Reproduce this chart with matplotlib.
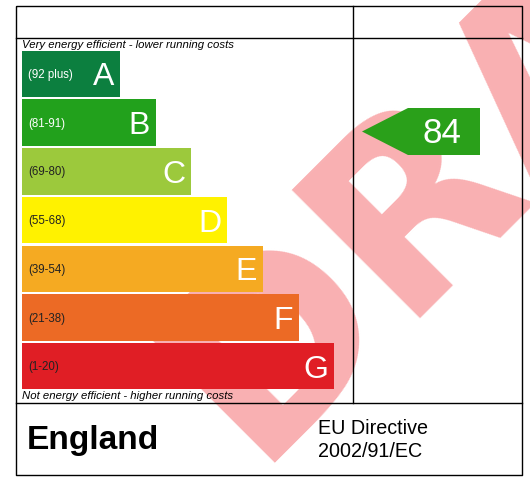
import matplotlib
matplotlib.use("Agg")
import matplotlib.pyplot as plt
from matplotlib.patches import Rectangle, Polygon

# ---- data ----
bands = ["A", "B", "C", "D", "E", "F", "G"]
ranges = ["(92 plus)", "(81-91)", "(69-80)", "(55-68)", "(39-54)", "(21-38)", "(1-20)"]
band_colors = ["#0c7f3f", "#22a11c", "#9cc93c", "#fff200", "#f5aa22", "#ec6a25", "#e01e25"]
range_text_colors = ["white", "white", "#222222", "#222222", "#222222", "#222222", "#222222"]
current_rating = 84
top_note = "Very energy efficient - lower running costs"
bottom_note = "Not energy efficient - higher running costs"
country = "England"
directive = ["EU Directive", "2002/91/EC"]
watermark = "DRAFT"

W, H = 530, 483
DPI = 100
PT = 72.0 / DPI  # px -> pt

fig = plt.figure(figsize=(W / DPI, H / DPI), dpi=DPI)
ax = fig.add_axes([0, 0, 1, 1])
ax.set_xlim(0, W)
ax.set_ylim(H, 0)
ax.axis("off")
fam = "Liberation Sans"

# watermark (behind everything)
ax.text(252, 463, watermark, rotation=45, rotation_mode="anchor",
        ha="left", va="baseline", fontsize=248 * PT, fontweight="bold",
        family="DejaVu Sans", color="#f9b0b2", zorder=0.5, clip_on=True)

# bars
bar_left = 22
bar_top0 = 50.7
pitch = 48.7
bar_h = 46.5
right0 = 120
step = 35.7
for i, (b, r, c, tc) in enumerate(zip(bands, ranges, band_colors, range_text_colors)):
    top = bar_top0 + i * pitch
    right = right0 + i * step
    ax.add_patch(Rectangle((bar_left, top), right - bar_left, bar_h,
                           facecolor=c, edgecolor="none", zorder=2))
    cy = top + bar_h / 2
    ax.text(bar_left + 6, cy + 4.1, r, ha="left", va="baseline",
            fontsize=8.3, family=fam, color=tc, zorder=3)
    ax.text(right - 6, cy + 11.5, b, ha="right", va="baseline",
            fontsize=32 * PT, family=fam, color="white", zorder=3)

# current rating arrow
ax.add_patch(Polygon([(362, 131.5), (408, 108), (480, 108), (480, 155), (408, 155)],
                     closed=True, facecolor="#2aa01a", edgecolor="none", zorder=2))
ax.text(442, 143, str(current_rating), ha="center", va="baseline",
        fontsize=35 * PT, family=fam, color="white", zorder=3)

# notes
ax.text(22.5, 48.5, top_note, ha="left", va="baseline", fontsize=8.2,
        style="italic", family=fam, color="black", zorder=3)
ax.text(22.5, 399, bottom_note, ha="left", va="baseline", fontsize=8.2,
        style="italic", family=fam, color="black", zorder=3)

# footer texts
ax.text(27, 449, country, ha="left", va="baseline", fontsize=33.5 * PT,
        fontweight="bold", family=fam, color="black", zorder=3)
ax.text(318, 434.3, directive[0], ha="left", va="baseline", fontsize=19.8 * PT,
        family=fam, color="black", zorder=3)
ax.text(318, 456.7, directive[1], ha="left", va="baseline", fontsize=19.8 * PT,
        family=fam, color="black", zorder=3)

# frame lines
lw = 1.0
L, R, T, B = 16, 521.5, 6, 475
ax.plot([L, R, R, L, L], [T, T, B, B, T], color="black", lw=lw, zorder=4, solid_capstyle="butt")
ax.plot([L, R], [38, 38], color="black", lw=lw, zorder=4)
ax.plot([L, R], [403, 403], color="black", lw=lw, zorder=4)
ax.plot([352.7, 352.7], [T, 403], color="black", lw=lw, zorder=4)

fig.savefig("out.png", dpi=DPI)
